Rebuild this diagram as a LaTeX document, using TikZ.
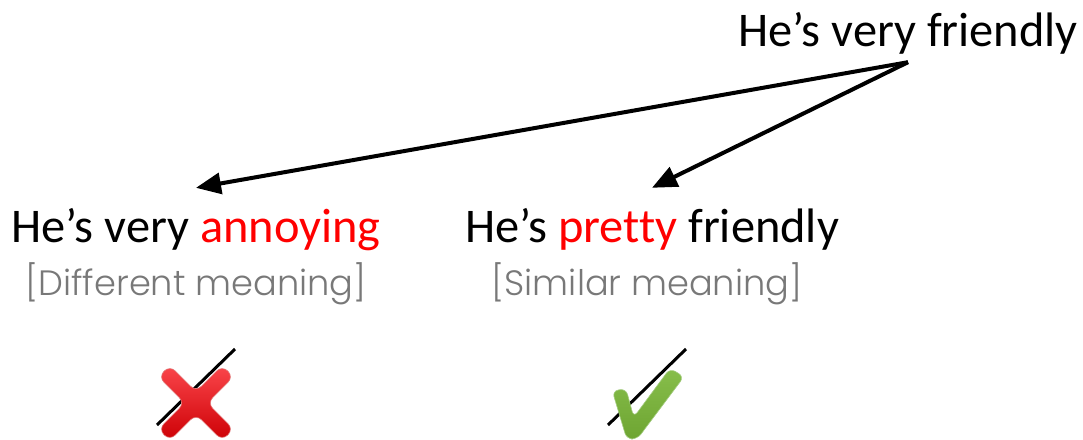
\documentclass[tikz,border=0pt]{standalone}
\usepackage{fontspec}
\setmainfont[Ligatures=NoCommon]{Carlito}
\newfontfamily\greyfont{Poppins Light}
\usetikzlibrary{arrows.meta}
\definecolor{redword}{RGB}{255,0,0}
\definecolor{greyword}{RGB}{120,120,120}
\definecolor{crosstop}{RGB}{250,70,75}
\definecolor{crossbottom}{RGB}{205,0,5}
\definecolor{crossedge}{RGB}{225,120,120}
\definecolor{ticktop}{RGB}{135,190,75}
\definecolor{tickbottom}{RGB}{110,165,50}
\definecolor{tickedge}{RGB}{165,205,130}
\tikzset{
  sentence/.style={inner sep=0pt,anchor=base,font=\fontsize{48.4}{48.4}\selectfont,text=black},
  note/.style={inner sep=0pt,anchor=base,font=\greyfont\fontsize{35.2}{35.2}\selectfont,text=greyword},
  link/.style={draw=black,line width=4pt,-{Triangle[length=25pt,width=21pt]}},
  slash/.style={draw=black,line width=3pt},
  crossmark/.style={rounded corners=7.5pt,top color=crosstop,bottom color=crossbottom,draw=crossedge,line width=.6pt},
  tickmark/.style={rounded corners=6pt,top color=ticktop,bottom color=tickbottom,draw=tickedge,line width=.6pt}
}
\begin{document}
\begin{tikzpicture}[x=1pt,y=-1pt]
\useasboundingbox (0,0) rectangle (1083,439);
\node[sentence,text height=46pt,text depth=16pt] (source) at (908,46) {He’s very friendly};
\node[sentence,text height=54pt,text depth=12pt] (different) at (196,242) {He’s very \textcolor{redword}{annoying}};
\node[sentence,text height=54pt,text depth=12pt] (similar) at (652,242) {He’s \textcolor{redword}{pretty} friendly};
\node[note] (diffnote) at (196,295) {[Different meaning]};
\node[note] (simnote) at (647,295) {[Similar meaning]};
\draw[link] (source.south) -- (different.north);
\draw[link] (source.south) -- (similar.north);
\coordinate (s1a) at (157,425); \coordinate (s1b) at (235,349);
\coordinate (s2a) at (608,425); \coordinate (s2b) at (686,349);
\draw[slash] (s1a) -- (s1b);
\draw[slash] (s2a) -- (s2b);
\begin{scope}[shift={(196,403)}]
\shade[crossmark] (37.5,26.2) -- (11.3,0) -- (37.5,-26.2) -- (26.2,-37.5) -- (0,-11.3) -- (-26.2,-37.5) -- (-37.5,-26.2) -- (-11.3,0) -- (-37.5,26.2) -- (-26.2,37.5) -- (0,11.3) -- (26.2,37.5) -- cycle;
\end{scope}
\shade[tickmark] (612.3,391) -- (626,388.7) -- (633.7,417.3) -- (670,368.3) -- (684,376.7) -- (637.3,439) -- (626.7,439) -- cycle;
\end{tikzpicture}
\end{document}
